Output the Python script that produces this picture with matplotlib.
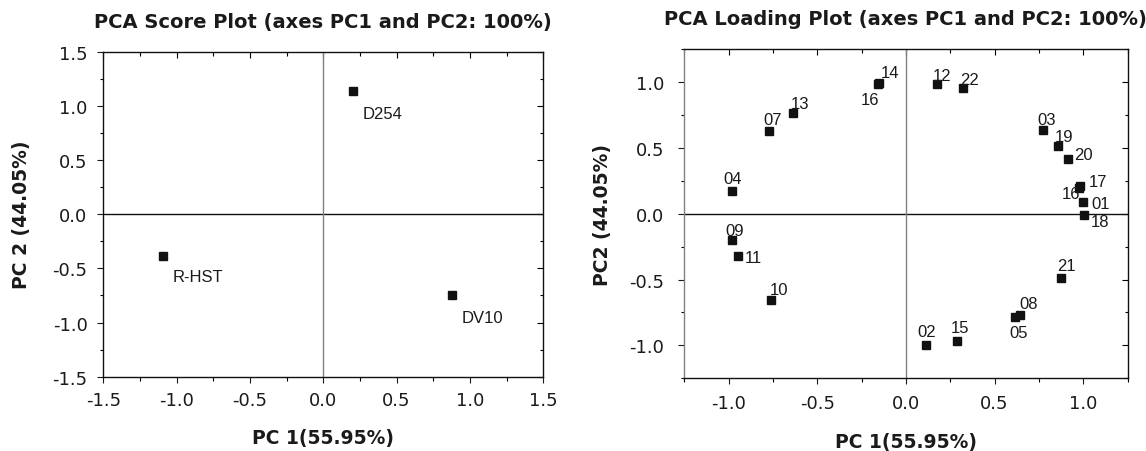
import matplotlib
matplotlib.use("Agg")
import matplotlib.pyplot as plt
from matplotlib.ticker import MultipleLocator

# ---------------- data ----------------
score_labels = ["D254", "R-HST", "DV10"]
score_pc1 = [0.20, -1.09, 0.88]
score_pc2 = [1.14, -0.39, -0.745]

load_labels = ["14", "16", "13", "07", "04", "09", "11", "10", "12", "22", "03",
               "19", "20", "17", "16", "01", "18", "21", "08", "05", "15", "02"]
load_pc1 = [-0.150, -0.160, -0.639, -0.773, -0.982, -0.980, -0.947, -0.759, 0.174, 0.321, 0.771,
            0.858, 0.916, 0.982, 0.976, 0.999, 1.005, 0.875, 0.643, 0.618, 0.287, 0.112]
load_pc2 = [0.990, 0.984, 0.768, 0.631, 0.175, -0.203, -0.319, -0.654, 0.981, 0.951, 0.639,
            0.512, 0.413, 0.210, 0.193, 0.091, -0.008, -0.487, -0.768, -0.788, -0.963, -0.996]

score_title = "PCA Score Plot (axes PC1 and PC2: 100%)"
load_title = "PCA Loading Plot (axes PC1 and PC2: 100%)"
xlabel_txt = "PC 1(55.95%)"
ylabel_score = "PC 2 (44.05%)"
ylabel_load = "PC2 (44.05%)"

# label placement (pixel offsets: dx of anchor edge, dy of centre; ha)
load_offsets = [(1, 11, "left"), (2, -15, "right"), (-2, 9, "left"), (-5, 11, "left"),
                (-8, 12, "left"), (-7, 10, "left"), (7, -2, "left"), (-2, 10, "left"),
                (-4, 9, "left"), (-3, 9, "left"), (-5, 10, "left"), (-3, 10, "left"),
                (6, 5, "left"), (9, 5, "left"), (1, -5, "right"), (8, -2, "left"),
                (7, -7, "left"), (-4, 12, "left"), (-1, 11, "left"), (-6, -15, "left"),
                (-6, 13, "left"), (-8, 13, "left")]
score_offsets = [(10, -23), (9.5, -20), (9, -23)]

PX = 0.72  # points per pixel at dpi 100

plt.rcParams['font.family'] = ['DejaVu Sans']
fig = plt.figure(figsize=(11.46, 4.52), dpi=100)

ax1 = fig.add_axes([0.0901, 0.1644, 0.3839, 0.7190])
ax2 = fig.add_axes([0.5971, 0.1608, 0.3868, 0.7285])

TXT = '#1a1a1a'


def style(ax, lim, xpad, ypad, left_color):
    ax.set_xlim(*lim[0])
    ax.set_ylim(*lim[1])
    for a in (ax.xaxis, ax.yaxis):
        a.set_major_locator(MultipleLocator(0.5))
        a.set_minor_locator(MultipleLocator(0.25))
        a.set_major_formatter(matplotlib.ticker.FormatStrFormatter('%.1f'))
    ax.tick_params(which='major', direction='out', length=6 * PX, width=0.8,
                   labelsize=13, colors=TXT)
    ax.tick_params(which='minor', direction='out', length=3.5 * PX, width=0.8)
    ax.tick_params(axis='x', pad=xpad)
    ax.tick_params(axis='y', pad=ypad)
    for s in ax.spines.values():
        s.set_linewidth(1.0)
        s.set_color('#111111')
    ax.spines['left'].set_color(left_color)
    # inward ticks on top and right
    top = ax.secondary_xaxis('top')
    top.xaxis.set_major_locator(MultipleLocator(0.5))
    top.xaxis.set_minor_locator(MultipleLocator(0.25))
    top.tick_params(which='major', direction='in', length=6 * PX, width=0.8, labeltop=False)
    top.tick_params(which='minor', direction='in', length=3.5 * PX, width=0.8)
    top.spines['top'].set_visible(False)
    right = ax.secondary_yaxis('right')
    right.yaxis.set_major_locator(MultipleLocator(0.5))
    right.yaxis.set_minor_locator(MultipleLocator(0.25))
    right.tick_params(which='major', direction='in', length=6 * PX, width=0.8, labelright=False)
    right.tick_params(which='minor', direction='in', length=3.5 * PX, width=0.8)
    right.spines['right'].set_visible(False)
    ax.axhline(0, color='#111111', lw=1.0, zorder=1)
    ax.axvline(0, color='#808080', lw=1.0, zorder=1)


style(ax1, ((-1.5, 1.5), (-1.5, 1.5)), 6, 7, '#111111')
style(ax2, ((-1.25, 1.25), (-1.25, 1.25)), 7, 10, '#808080')

# score plot
ax1.plot(score_pc1, score_pc2, 's', color='#111111', ms=5.5, zorder=3)
for lab, x, y, (dx, dy) in zip(score_labels, score_pc1, score_pc2, score_offsets):
    ax1.annotate(lab, (x, y), xytext=(dx * PX, dy * PX), textcoords='offset points',
                 ha='left', va='center', fontsize=12, family='Liberation Sans', color=TXT)

# loading plot
ax2.plot(load_pc1, load_pc2, 's', color='#111111', ms=5.5, zorder=3)
for lab, x, y, (dx, dy, ha) in zip(load_labels, load_pc1, load_pc2, load_offsets):
    ax2.annotate(lab, (x, y), xytext=(dx * PX, dy * PX), textcoords='offset points',
                 ha=ha, va='center', fontsize=12, family='Liberation Sans', color=TXT)

for ax, title, ylab, ty, xly, yly in ((ax1, score_title, ylabel_score, 1.092, -0.186, -0.185),
                                      (ax2, load_title, ylabel_load, 1.093, -0.193, -0.185)):
    ax.text(0.5, ty, title, transform=ax.transAxes, ha='center', va='center',
            fontsize=14, fontweight='bold', color=TXT)
    ax.set_xlabel(xlabel_txt, fontsize=13.5, fontweight='bold', color=TXT)
    ax.set_ylabel(ylab, fontsize=13.5, fontweight='bold', color=TXT)
    ax.xaxis.set_label_coords(0.5, xly)
    ax.xaxis.label.set_va('center')
    ax.yaxis.set_label_coords(yly, 0.5)
    ax.yaxis.label.set_va('center')

fig.savefig('out.png', dpi=100)
